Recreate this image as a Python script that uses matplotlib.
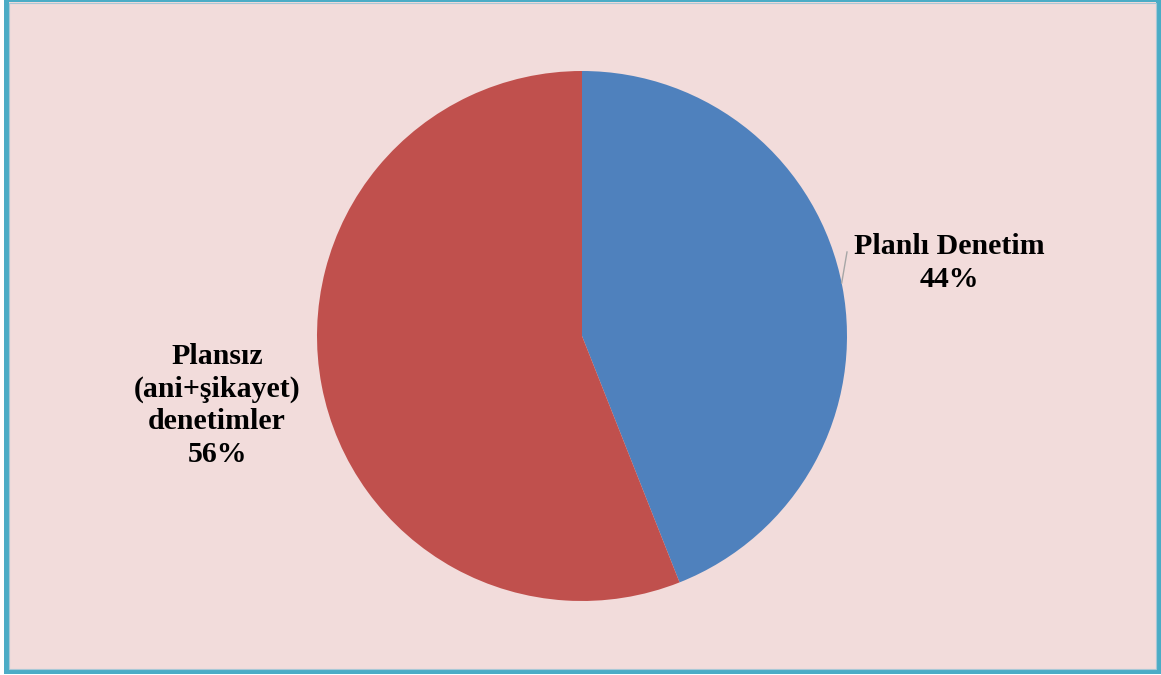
import matplotlib
matplotlib.use("Agg")
import matplotlib.pyplot as plt
from matplotlib.patches import Rectangle

labels = ["Planlı Denetim", "Plansız\n(ani+şikayet)\ndenetimler"]
values = [44, 56]
colors = ["#4F81BD", "#C0504D"]

W, H = 1161, 675
fig = plt.figure(figsize=(W / 100, H / 100), dpi=100)
fig.patch.set_facecolor("white")

def px(x0, y0, x1, y1):
    # pixel box (top-left origin) -> figure fraction
    return [x0 / W, 1 - y1 / H, (x1 - x0) / W, (y1 - y0) / H]

# background panel
bg = Rectangle((5.5 / W, 1 - 671 / H), (1158 - 5.5) / W, (671 + 1) / H,
               transform=fig.transFigure, facecolor="#F2DCDB",
               edgecolor="#4BACC6", linewidth=3.6, zorder=-10)
fig.patches.append(bg)
inner = Rectangle((8.5 / W, 1 - 668.5 / H), (1155.5 - 8.5) / W, (668.5 - 2.5) / H,
                  transform=fig.transFigure, facecolor="none",
                  edgecolor="#A9C8D6", linewidth=0.8, zorder=-9)
fig.patches.append(inner)

cx, cy, r = 582, 336, 265
ax = fig.add_axes(px(cx - r, cy - r, cx + r, cy + r))
ax.set_zorder(5)
ax.set_facecolor("none")
wedges, _ = ax.pie(values, colors=colors, startangle=90, counterclock=False,
                   radius=1, wedgeprops=dict(linewidth=0))
ax.set_xlim(-1, 1)
ax.set_ylim(-1, 1)
ax.set_aspect("equal")
ax.axis("off")

font = dict(family=["Liberation Serif", "DejaVu Serif"], weight="bold",
            fontsize=21.5, color="black", ha="center", va="center",
            linespacing=1.27)

ax.text(1.385, 0.275, f"{labels[0]}\n{values[0]}%", clip_on=False, **font)
ax.text(-1.377, -0.262, f"{labels[1]}\n{values[1]}%", clip_on=False, **font)

ax.plot([1.0, 0.98], [0.317, 0.2], color="#A6A6A6", linewidth=1.0,
        clip_on=False)

fig.savefig("out.png", dpi=100, facecolor=fig.get_facecolor())
